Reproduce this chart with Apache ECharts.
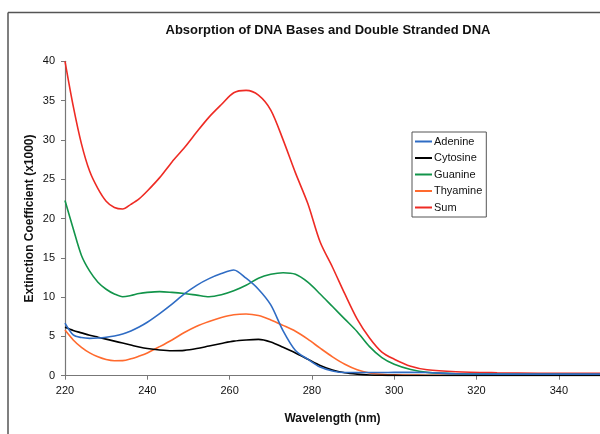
<!DOCTYPE html>
<html>
<head>
<meta charset="utf-8">
<script src="https://cdn.jsdelivr.net/npm/echarts@6/dist/echarts.min.js"></script>
<style>
html,body{margin:0;padding:0;background:#fff;}
#chart{width:600px;height:434px;}
</style>
</head>
<body>
<div id="chart"></div>
<script>
// Wavelengths (nm), shared by all series
var wavelengths = [220,222,224,226,228,230,232,234,236,238,240,243,246,249,252,255,258,261,264,267,270,273,276,279,282,285,288,291,294,297,300,304,308,315,325,335,350];

// Extinction coefficients (x1000)
var adenine  = [6.7,5.2,4.85,4.75,4.8,4.9,5.05,5.3,5.7,6.2,6.8,7.9,9.1,10.4,11.5,12.35,13.0,13.45,12.4,11.0,9.0,5.7,3.2,2.1,1.1,0.6,0.4,0.4,0.4,0.4,0.42,0.42,0.4,0.25,0.2,0.2,0.2];
var cytosine = [6.15,5.75,5.45,5.15,4.9,4.65,4.4,4.15,3.9,3.65,3.45,3.27,3.18,3.22,3.45,3.78,4.1,4.4,4.55,4.62,4.3,3.62,2.9,2.1,1.3,0.72,0.38,0.2,0.09,0.05,0.04,0.03,0.03,0.03,0.03,0.03,0.03];
var guanine  = [22.3,18.7,15.3,13.3,11.9,11.0,10.4,10.05,10.2,10.45,10.6,10.7,10.6,10.45,10.25,10.05,10.3,10.8,11.5,12.4,12.9,13.1,12.9,11.9,10.4,8.8,7.2,5.6,3.7,2.3,1.45,0.78,0.42,0.25,0.2,0.18,0.15];
var thyamine = [5.8,4.55,3.6,2.9,2.4,2.05,1.9,1.92,2.15,2.5,2.9,3.7,4.55,5.5,6.3,6.9,7.4,7.75,7.85,7.65,7.1,6.4,5.65,4.65,3.5,2.4,1.45,0.75,0.35,0.18,0.1,0.08,0.06,0.05,0.05,0.05,0.05];
var sum      = [40.0,34.3,29.5,26.0,23.8,22.2,21.4,21.2,21.8,22.5,23.5,25.2,27.2,29.0,31.0,32.9,34.5,36.0,36.3,35.7,33.8,30.0,25.8,21.9,17.0,13.8,10.4,7.2,4.8,3.0,2.1,1.2,0.75,0.5,0.38,0.32,0.3];

var seriesNames = ['Adenine','Cytosine','Guanine','Thyamine','Sum'];
var seriesData = [adenine, cytosine, guanine, thyamine, sum];
var seriesColors = ['#2f6cc4','#000000','#12944a','#ff6a2e','#ee2b24'];

var xTicks = {min:220, max:350, interval:20};
var yTicks = {min:0, max:40, interval:5};

function pairs(vals){ return wavelengths.map(function(w,i){ return [w, vals[i]]; }); }

var chart = echarts.init(document.getElementById('chart'), null, {renderer:'canvas'});
var font = 'Liberation Sans, Arial, sans-serif';

var series = seriesNames.map(function(n,i){
  return {
    name:n, type:'line', data:pairs(seriesData[i]), smooth:0.3, showSymbol:false, symbol:'none',
    lineStyle:{width:1.6, color:seriesColors[i]}, itemStyle:{color:seriesColors[i]}, z: 10-i
  };
});

chart.setOption({
  animation:false,
  backgroundColor:'#ffffff',
  title:{
    text:'Absorption of DNA Bases and Double Stranded DNA',
    left:323, top:19, textAlign:'center',
    textStyle:{fontFamily:font, fontSize:13, fontWeight:'bold', color:'#111'}
  },
  legend:{
    data:seriesNames, orient:'vertical', left:412, top:132,
    icon:'rect', itemWidth:17, itemHeight:2, itemGap:3.5,
    padding:[3,4,3,3], borderColor:'#555', borderWidth:1,
    textStyle:{fontFamily:font, fontSize:11, color:'#111', lineHeight:13, padding:[0,0,0,-3]}
  },
  grid:{left:65, right:0, top:61.3, bottom:58.3, containLabel:false},
  xAxis:{
    type:'value', min:xTicks.min, max:xTicks.max, interval:xTicks.interval,
    name:'Wavelength (nm)', nameLocation:'middle', nameGap:37, nameMoveOverlap:false,
    nameTextStyle:{fontFamily:font, fontSize:12, fontWeight:'bold', color:'#111'},
    axisLine:{lineStyle:{color:'#777', width:1.2}},
    axisTick:{show:true, length:4, lineStyle:{color:'#777'}},
    axisLabel:{fontFamily:font, fontSize:11, color:'#111', margin:10, showMaxLabel:false},
    splitLine:{show:false}
  },
  yAxis:{
    type:'value', min:yTicks.min, max:yTicks.max, interval:yTicks.interval,
    name:'Extinction Coefficient (x1000)', nameLocation:'middle', nameGap:29, nameRotate:90, nameMoveOverlap:false,
    nameTextStyle:{fontFamily:font, fontSize:12, fontWeight:'bold', color:'#111'},
    axisLine:{show:true, lineStyle:{color:'#777', width:1.2}},
    axisTick:{show:true, length:4, lineStyle:{color:'#777'}},
    axisLabel:{fontFamily:font, fontSize:11, color:'#111', margin:10},
    splitLine:{show:false}
  },
  graphic:[
    {type:'line', shape:{x1:8, y1:12.5, x2:8, y2:434}, style:{stroke:'#555', lineWidth:1.5}, silent:true},
    {type:'line', shape:{x1:8, y1:12.5, x2:600, y2:12.5}, style:{stroke:'#555', lineWidth:1.5}, silent:true}
  ],
  series:series
});
</script>
</body>
</html>
